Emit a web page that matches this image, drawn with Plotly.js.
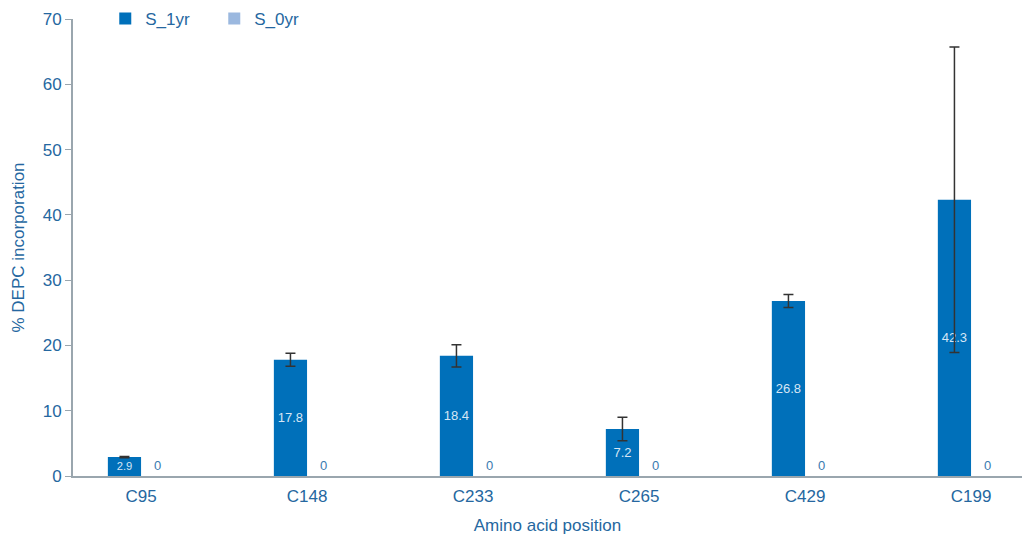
<!DOCTYPE html>
<html>
<head>
<meta charset="utf-8">
<script src="https://cdn.plot.ly/plotly-3.0.1.min.js"></script>
<style>html,body{margin:0;padding:0;background:#fff;}#chart{width:1022px;height:537px;}</style>
</head>
<body>
<div id="chart"></div>
<script>
var categories = ["C95", "C148", "C233", "C265", "C429", "C199"];
var s1yr = [2.9, 17.8, 18.4, 7.2, 26.8, 42.3];
var s1yrErr = [0.1, 1.0, 1.7, 1.8, 1.0, 23.4];
var s0yr = [0, 0, 0, 0, 0, 0];
var yTicks = [0, 10, 20, 30, 40, 50, 60, 70];

var fam = "'Liberation Sans', Arial, sans-serif";
var txtColor = "#2567a0";
var traces = [
  {
    type: "bar", name: "S_1yr", x: categories, y: s1yr,
    marker: {color: "#0070ba"},
    text: s1yr.map(String), textposition: "inside", insidetextanchor: "middle",
    textfont: {color: "#d6e6f5", size: 13, family: fam},
    error_y: {type: "data", array: s1yrErr, visible: true, color: "#333333", thickness: 1.5, width: 5},
    hoverinfo: "none"
  },
  {
    type: "bar", name: "S_0yr", x: categories, y: s0yr,
    marker: {color: "#9bb8df"},
    text: s0yr.map(String), textposition: "outside",
    textfont: {color: "#3a7ab0", size: 13, family: fam},
    cliponaxis: false,
    hoverinfo: "none"
  }
];

var layout = {
  width: 1022, height: 537,
  margin: {l: 73, r: 0, t: 19, b: 61},
  paper_bgcolor: "#ffffff", plot_bgcolor: "#ffffff",
  barmode: "group", bargap: 0.6, bargroupgap: 0,
  font: {family: fam, color: txtColor, size: 17},
  showlegend: true,
  legend: {orientation: "h", x: 0.034, y: 1.0, xanchor: "left", yanchor: "middle",
           entrywidth: 64, entrywidthmode: "pixels",
           font: {size: 17, color: txtColor, family: fam}, bgcolor: "rgba(0,0,0,0)"},
  xaxis: {
    type: "category", range: [-0.41, 5.307],
    showline: true, linecolor: "#9aa6ae", linewidth: 2,
    ticks: "outside", ticklen: 4, tickcolor: "rgba(0,0,0,0)",
    tickfont: {size: 17, color: txtColor, family: fam},
    title: {text: "Amino acid position", font: {size: 17, color: txtColor, family: fam}, standoff: 14},
    showgrid: false, zeroline: false
  },
  yaxis: {
    range: [0, 70], tickvals: yTicks,
    showline: true, linecolor: "#9aa6ae", linewidth: 2,
    ticks: "outside", ticklen: 6, tickcolor: "#9aa6ae", tickwidth: 1,
    tickfont: {size: 17, color: txtColor, family: fam},
    title: {text: "% DEPC incorporation", font: {size: 17, color: txtColor, family: fam}, standoff: 14},
    showgrid: false, zeroline: false
  }
};

Plotly.newPlot("chart", traces, layout, {displayModeBar: false, staticPlot: true});
</script>
</body>
</html>
